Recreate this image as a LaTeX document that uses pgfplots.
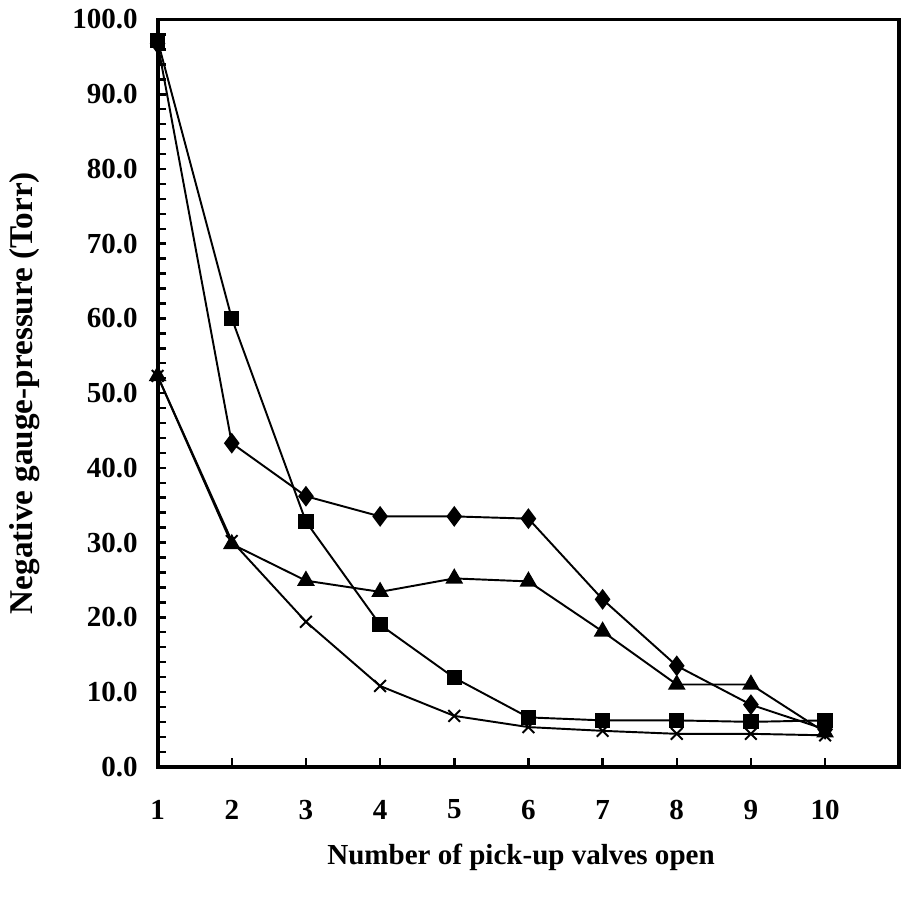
\documentclass[border=0pt]{standalone}
\usepackage{pgfplots}
\pgfplotsset{compat=1.18}
\usepackage{fontspec}
\setmainfont{Liberation Serif}
\begin{document}
\fontsize{10.5}{12}\selectfont\bfseries
\begin{tikzpicture}
\begin{axis}[
    scale only axis,
    width=268pt, height=270pt,
    xmin=1, xmax=11, ymin=0, ymax=100,
    xtick={1,...,10},
    ytick={0,10,...,100},
    minor y tick num=4,
    tick align=inside,
    major tick length=3pt, minor tick length=3pt,
    xtick pos=bottom, ytick pos=left,
    axis line style={line width=1.4pt},
    every tick/.style={line width=0.9pt, black},
    /pgf/number format/assume math mode=true,
    yticklabel={\pgfmathprintnumber[fixed,fixed zerofill,precision=1]{\tick}},
    xticklabel style={anchor=center, yshift=-15.5pt},
    yticklabel style={anchor=east, xshift=-3.5pt},
    xlabel={Number of pick-up valves open},
    ylabel={Negative gauge-pressure (Torr)},
    xlabel style={at={(axis description cs:0.49,-0.122)}, anchor=center, font=\fontsize{10.5}{12}\selectfont\bfseries},
    ylabel style={at={(axis description cs:-0.179,0.5)}, anchor=center, font=\fontsize{12}{14}\selectfont\bfseries},
    every axis plot/.append style={black, line width=0.7pt, mark options={solid, fill=black}},
    clip=false,
]
% diamond
\addplot[mark=diamond*, mark size=3.2pt] coordinates {
(1,96.8)(2,43.3)(3,36.2)(4,33.5)(5,33.5)(6,33.2)(7,22.4)(8,13.5)(9,8.3)(10,5.0)};
% square
\addplot[mark=square*, mark size=2.4pt] coordinates {
(1,97.2)(2,60.0)(3,32.8)(4,19.0)(5,11.9)(6,6.6)(7,6.2)(8,6.2)(9,6.0)(10,6.2)};
% triangle
\addplot[mark=triangle*, mark size=3pt] coordinates {
(1,52.3)(2,29.8)(3,24.9)(4,23.4)(5,25.2)(6,24.8)(7,18.1)(8,11.0)(9,11.0)(10,4.6)};
% cross
\addplot[mark=x, mark size=3pt] coordinates {
(1,52.3)(2,30.2)(3,19.4)(4,10.8)(5,6.8)(6,5.3)(7,4.8)(8,4.4)(9,4.4)(10,4.2)};
\end{axis}
\path ([shift={(5pt,-10pt)}]current bounding box.south east);
\end{tikzpicture}
\end{document}
